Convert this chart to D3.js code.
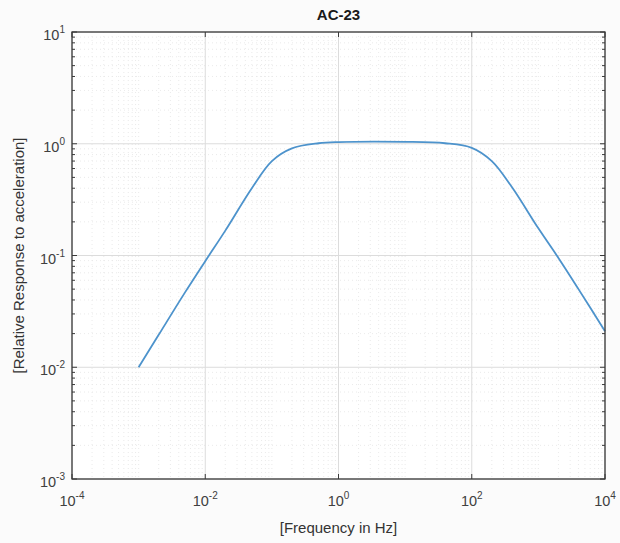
<!DOCTYPE html>
<html>
<head>
<meta charset="utf-8">
<script src="https://cdn.jsdelivr.net/npm/d3@7"></script>
<style>
  html, body { margin: 0; padding: 0; background: #ffffff; }
  svg { display: block; font-family: "Liberation Sans", Arial, Helvetica, sans-serif; }
</style>
</head>
<body>
<svg id="chart" width="620" height="543"></svg>
<script>
// Frequency response of the AC-23 accelerometer (relative to acceleration)
const frequencyHz = [0.001, 0.002, 0.005, 0.01, 0.02, 0.05, 0.1, 0.2, 0.5, 1, 10,
                     40, 100, 200, 400, 1000, 2000, 4000, 10000];
const relativeResponse = [0.0100, 0.0195, 0.047, 0.089, 0.167, 0.40, 0.70, 0.91, 1.01, 1.035, 1.04,
                          1.01, 0.92, 0.70, 0.41, 0.175, 0.095, 0.050, 0.021];

// Axis decades and labels
const xTickExponents = [-4, -2, 0, 2, 4];
const yTickExponents = [-3, -2, -1, 0, 1];
const chartTitle = "AC-23";
const xLabel = "[Frequency in Hz]";
const yLabel = "[Relative Response to acceleration]";

const svg = d3.select("#chart");
const W = 620, H = 543;
const m = { left: 72, right: 15, top: 32, bottom: 64 };
const x0 = m.left, x1 = W - m.right, y0 = m.top, y1 = H - m.bottom;

const x = d3.scaleLog().domain([1e-4, 1e4]).range([x0, x1]);
const y = d3.scaleLog().domain([1e-3, 1e1]).range([y1, y0]);

svg.append("rect").attr("width", W).attr("height", H).attr("fill", "#fbfbfb");
svg.append("rect").attr("x", x0).attr("y", y0).attr("width", x1 - x0).attr("height", y1 - y0).attr("fill", "#ffffff");

// Minor positions: 2..9 in each decade, plus the unlabeled decades
function minorValues(lo, hi, majors) {
  const out = [];
  for (let e = lo; e < hi; e++) {
    for (let k = 1; k <= 9; k++) {
      if (k === 1 && majors.includes(e)) continue;
      out.push(k * Math.pow(10, e));
    }
  }
  return out;
}
const xMinor = minorValues(-4, 4, xTickExponents);
const yMinor = minorValues(-3, 1, yTickExponents);
const xMajor = xTickExponents.map(e => Math.pow(10, e));
const yMajor = yTickExponents.map(e => Math.pow(10, e));

const grid = svg.append("g");
// minor grid (dotted, faint)
grid.selectAll(".xm").data(xMinor).join("line")
  .attr("x1", d => x(d)).attr("x2", d => x(d)).attr("y1", y0).attr("y2", y1)
  .attr("stroke", "#e4e4e4").attr("stroke-width", 0.8).attr("stroke-dasharray", "1,3");
grid.selectAll(".ym").data(yMinor).join("line")
  .attr("y1", d => y(d)).attr("y2", d => y(d)).attr("x1", x0).attr("x2", x1)
  .attr("stroke", "#e4e4e4").attr("stroke-width", 0.8).attr("stroke-dasharray", "1,3");
// major grid
grid.selectAll(".xM").data(xMajor).join("line")
  .attr("x1", d => x(d)).attr("x2", d => x(d)).attr("y1", y0).attr("y2", y1)
  .attr("stroke", "#dcdcdc").attr("stroke-width", 1);
grid.selectAll(".yM").data(yMajor).join("line")
  .attr("y1", d => y(d)).attr("y2", d => y(d)).attr("x1", x0).attr("x2", x1)
  .attr("stroke", "#dcdcdc").attr("stroke-width", 1);

// Response curve
const line = d3.line()
  .x((d, i) => x(frequencyHz[i]))
  .y(d => y(d))
  .curve(d3.curveCatmullRom.alpha(0.5));
svg.append("path")
  .datum(relativeResponse)
  .attr("d", line)
  .attr("fill", "none")
  .attr("stroke", "#4d93cc")
  .attr("stroke-width", 1.8);

// Box with inward ticks
const axisColor = "#3a3a3a";
const ax = svg.append("g");
function tickLines(vals, len, orient) {
  vals.forEach(v => {
    if (orient === "x") {
      const px = x(v);
      ax.append("line").attr("x1", px).attr("x2", px).attr("y1", y1).attr("y2", y1 - len).attr("stroke", axisColor);
      ax.append("line").attr("x1", px).attr("x2", px).attr("y1", y0).attr("y2", y0 + len).attr("stroke", axisColor);
    } else {
      const py = y(v);
      ax.append("line").attr("y1", py).attr("y2", py).attr("x1", x0).attr("x2", x0 + len).attr("stroke", axisColor);
      ax.append("line").attr("y1", py).attr("y2", py).attr("x1", x1).attr("x2", x1 - len).attr("stroke", axisColor);
    }
  });
}
tickLines(xMajor, 5, "x");
tickLines(yMajor, 5, "y");
tickLines(yMinor, 3, "y");

ax.append("rect").attr("x", x0).attr("y", y0).attr("width", x1 - x0).attr("height", y1 - y0)
  .attr("fill", "none").attr("stroke", axisColor).attr("stroke-width", 1.3);

// Tick labels as powers of ten
function powerLabel(t, e) {
  t.append("tspan").text("10");
  t.append("tspan").attr("dy", -7).attr("font-size", 10).text(String(e));
}
xTickExponents.forEach(e => {
  const t = svg.append("text")
    .attr("x", x(Math.pow(10, e)))
    .attr("y", y1 + 27)
    .attr("text-anchor", "middle")
    .attr("font-size", 14.5)
    .attr("fill", "#404040");
  powerLabel(t, e);
});
yTickExponents.forEach(e => {
  const t = svg.append("text")
    .attr("x", x0 - 7)
    .attr("y", y(Math.pow(10, e)) + 8)
    .attr("text-anchor", "end")
    .attr("font-size", 14.5)
    .attr("fill", "#404040");
  powerLabel(t, e);
});

// Title and axis labels
svg.append("text").attr("x", (x0 + x1) / 2).attr("y", 20)
  .attr("text-anchor", "middle").attr("font-size", 15).attr("font-weight", "bold")
  .attr("fill", "#1a1a1a").text(chartTitle);
svg.append("text").attr("x", (x0 + x1) / 2).attr("y", 533)
  .attr("text-anchor", "middle").attr("font-size", 15).attr("fill", "#333333").text(xLabel);
svg.append("text")
  .attr("transform", `translate(24,${(y0 + y1) / 2}) rotate(-90)`)
  .attr("text-anchor", "middle").attr("font-size", 15).attr("fill", "#333333").text(yLabel);
</script>
</body>
</html>
